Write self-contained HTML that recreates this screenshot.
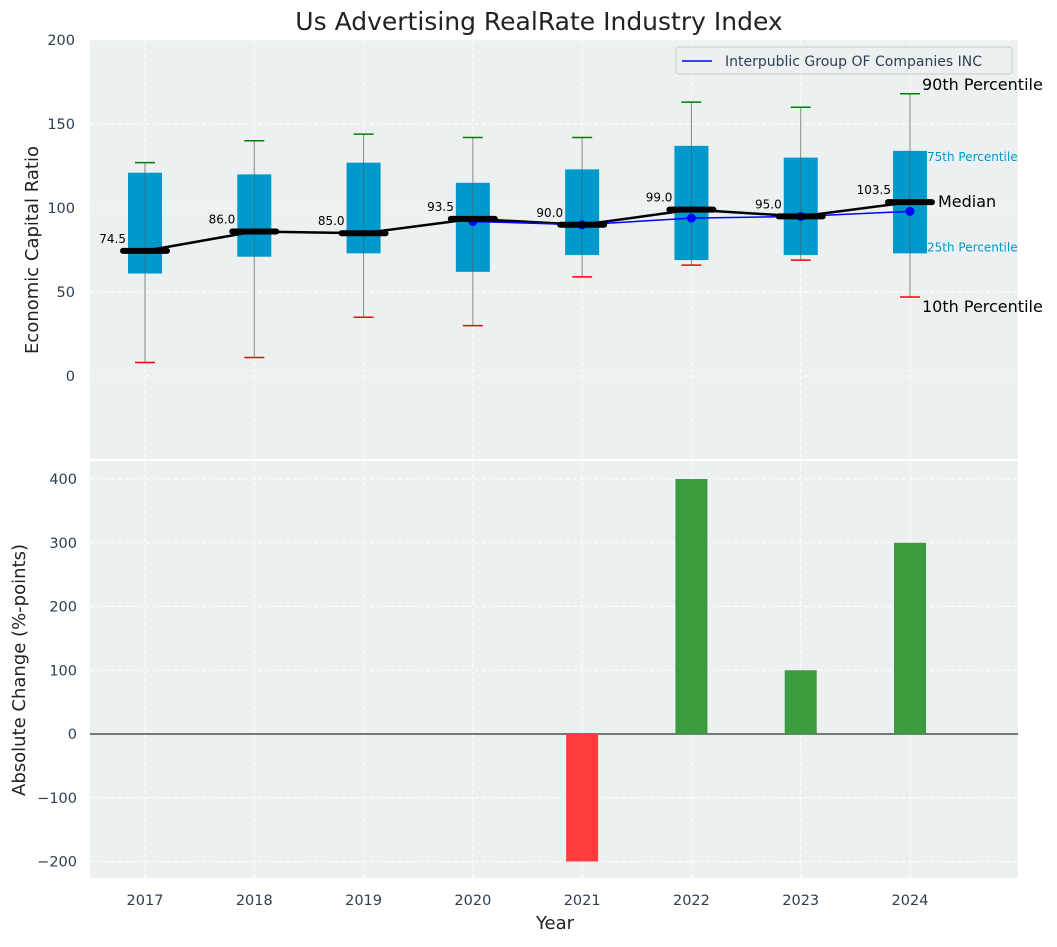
<!DOCTYPE html>
<html><head><meta charset="utf-8"><style>
body{margin:0;background:#fff;font-family:"Liberation Sans","DejaVu Sans",sans-serif}
svg text{font-family:"DejaVu Sans","Liberation Sans",sans-serif}
</style></head><body>
<svg id="c" width="1057" height="942"></svg>
<script>
const years=[2017,2018,2019,2020,2021,2022,2023,2024];
const p10=[8,11,35,30,59,66,69,47];
const q1=[61,71,73,62,72,69,72,73];
const med=[74.5,86,85,93.5,90,99,95,103.5];
const q3=[121,120,127,115,123,137,130,134];
const p90=[127,140,144,142,142,163,160,168];
const compYears=[2020,2021,2022,2023,2024];
const compVals=[92,90,94,95,98];
const chgYears=[2021,2022,2023,2024];
const chgVals=[-200,400,100,300];
const topTicks=[0,50,100,150,200];
const botTicks=[-200,-100,0,100,200,300,400];

const svg=document.getElementById('c');const NS='http://www.w3.org/2000/svg';
function el(t,a,txt){const e=document.createElementNS(NS,t);for(const k in a)e.setAttribute(k,a[k]);if(txt!==undefined)e.textContent=txt;svg.appendChild(e);return e;}
const L=90,R=1018;
const x=v=>145+(v-2017)*(910-145)/7;
const yT=v=>376-v*1.68;
const yB=v=>734-v*0.6375;
let e;
e=el('rect',{x:L,y:40,width:R-L,height:419,fill:'#ecf0f1'});

e=el('rect',{x:L,y:461,width:R-L,height:417,fill:'#ecf0f1'});

years.forEach(y=>{el('line',{x1:x(y),x2:x(y),y1:40,y2:459,stroke:'#fff','stroke-dasharray':'4,3'});el('line',{x1:x(y),x2:x(y),y1:461,y2:878,stroke:'#fff','stroke-dasharray':'4,3'});
e=el('text',{x:x(y),y:905,'text-anchor':'middle','font-size':14.5,fill:'#2c3e50'},y);});
topTicks.forEach(t=>{el('line',{x1:L,x2:R,y1:yT(t),y2:yT(t),stroke:'#fff','stroke-dasharray':'4,3'});
e=el('text',{x:75,y:yT(t)+5,'text-anchor':'end','font-size':14.5,fill:'#2c3e50'},t);});
botTicks.forEach(t=>{el('line',{x1:L,x2:R,y1:yB(t),y2:yB(t),stroke:'#fff','stroke-dasharray':'4,3'});
e=el('text',{x:77,y:yB(t)+5,'text-anchor':'end','font-size':14.5,fill:'#2c3e50'},t<0?'\u2212'+(-t):t);});
years.forEach((y,i)=>{const cx=x(y);
el('line',{x1:cx,x2:cx,y1:yT(p90[i]),y2:yT(p10[i]),stroke:'#888','stroke-width':1});
e=el('rect',{x:cx-17,y:yT(q3[i]),width:34,height:yT(q1[i])-yT(q3[i]),fill:'#0099cc'});
el('line',{x1:cx,x2:cx,y1:yT(q3[i]),y2:yT(q1[i]),stroke:'#555','stroke-width':0.8,opacity:0.6});
el('line',{x1:cx-10,x2:cx+10,y1:yT(p90[i]),y2:yT(p90[i]),stroke:'green','stroke-width':1.5});
el('line',{x1:cx-10,x2:cx+10,y1:yT(p10[i]),y2:yT(p10[i]),stroke:'red','stroke-width':1.5});
});
e=el('polyline',{points:years.map((y,i)=>x(y)+','+yT(med[i])).join(' '),fill:'none',stroke:'#000','stroke-width':2.5});
e=el('polyline',{points:compYears.map((y,i)=>x(y)+','+yT(compVals[i])).join(' '),fill:'none',stroke:'blue','stroke-width':1.5});
compYears.forEach((y,i)=>{e=el('circle',{cx:x(y),cy:yT(compVals[i]),r:4.5,fill:'blue'});});
years.forEach((y,i)=>{const cx=x(y);
e=el('line',{x1:cx-22,x2:cx+22,y1:yT(med[i]),y2:yT(med[i]),stroke:'#000','stroke-width':6,'stroke-linecap':'round'});
e=el('text',{x:cx-19,y:yT(med[i])-8,'text-anchor':'end','font-size':12,fill:'#000'},med[i].toFixed(1));});
[['90th Percentile',16,'#000',922,yT(p90[7])-4],['75th Percentile',12,'#0099cc',927,yT(q3[7])+10],['Median',16,'#000',938,yT(med[7])+5],['25th Percentile',12,'#0099cc',927,yT(q1[7])-2],['10th Percentile',16,'#000',922,yT(p10[7])+15]].forEach(a=>{e=el('text',{x:a[3],y:a[4],'font-size':a[1],fill:a[2]},a[0]);});
e=el('rect',{x:676,y:47,width:336,height:27,fill:'#ecf0f1',stroke:'#ccc',rx:3});
el('line',{x1:682,x2:712,y1:61,y2:61,stroke:'blue','stroke-width':1.5});
e=el('text',{x:725,y:66,'font-size':14,fill:'#2c3e50'},'Interpublic Group OF Companies INC');
el('line',{x1:L,x2:R,y1:yB(0),y2:yB(0),stroke:'#000','stroke-width':1});
chgYears.forEach((y,i)=>{const v=chgVals[i];e=el('rect',{x:x(y)-16,y:Math.min(yB(v),yB(0)),width:32,height:Math.abs(yB(v)-yB(0)),fill:v<0?'#ff3b3b':'#3a9c3e'});});
e=el('text',{x:539,y:30,'text-anchor':'middle','font-size':25,fill:'#222'},'Us Advertising RealRate Industry Index');
e=el('text',{x:555,y:929,'text-anchor':'middle','font-size':18,fill:'#222'},'Year');
e=el('text',{transform:'translate(38,250) rotate(-90)','text-anchor':'middle','font-size':18,fill:'#222'},'Economic Capital Ratio');
e=el('text',{transform:'translate(25,670) rotate(-90)','text-anchor':'middle','font-size':18,fill:'#222'},'Absolute Change (%-points)');
</script></body></html>
